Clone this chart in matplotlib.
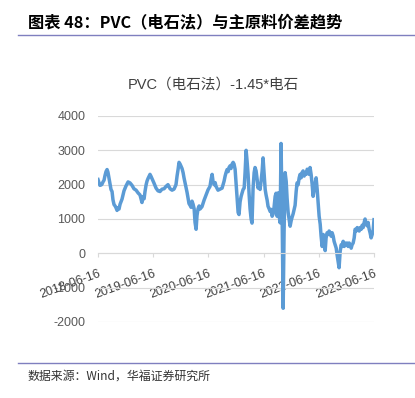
import pandas as pd
import matplotlib
matplotlib.use("Agg")
import matplotlib.pyplot as plt
from matplotlib.lines import Line2D

# PVC (calcium carbide) - 1.45 * carbide spread
dates = [
    "2018-06-16", "2018-06-23", "2018-06-29", "2018-07-06", "2018-07-12", "2018-07-19",
    "2018-07-26", "2018-08-01", "2018-08-08", "2018-08-15", "2018-08-21", "2018-08-28",
    "2018-09-03", "2018-09-10", "2018-09-17", "2018-09-23", "2018-09-30", "2018-10-07",
    "2018-10-13", "2018-10-20", "2018-10-26", "2018-11-02", "2018-11-09", "2018-11-22",
    "2018-12-05", "2018-12-18", "2019-01-01", "2019-01-14", "2019-01-27", "2019-02-09",
    "2019-02-23", "2019-03-08", "2019-03-21", "2019-03-28", "2019-04-03", "2019-04-10",
    "2019-04-17", "2019-04-23", "2019-04-30", "2019-05-06", "2019-05-13", "2019-05-26",
    "2019-06-02", "2019-06-08", "2019-06-22", "2019-07-05", "2019-07-18", "2019-07-31",
    "2019-08-14", "2019-08-27", "2019-09-09", "2019-09-22", "2019-10-06", "2019-10-19",
    "2019-11-01", "2019-11-14", "2019-11-21", "2019-11-28", "2019-12-04", "2019-12-11",
    "2019-12-17", "2019-12-24", "2019-12-31", "2020-01-06", "2020-01-13", "2020-01-20",
    "2020-01-26", "2020-02-02", "2020-02-08", "2020-02-15", "2020-02-22", "2020-02-28",
    "2020-03-06", "2020-03-13", "2020-03-19", "2020-03-26", "2020-04-01", "2020-04-08",
    "2020-04-15", "2020-04-21", "2020-05-04", "2020-05-18", "2020-05-31", "2020-06-13",
    "2020-06-26", "2020-07-03", "2020-07-10", "2020-07-16", "2020-07-23", "2020-07-30",
    "2020-08-05", "2020-08-18", "2020-09-01", "2020-09-14", "2020-09-27", "2020-10-04",
    "2020-10-10", "2020-10-17", "2020-10-24", "2020-10-30", "2020-11-06", "2020-11-12",
    "2020-11-19", "2020-11-26", "2020-12-02", "2020-12-09", "2020-12-16", "2020-12-22",
    "2020-12-29", "2021-01-04", "2021-01-11", "2021-01-18", "2021-01-24", "2021-01-31",
    "2021-02-07", "2021-02-13", "2021-02-20", "2021-02-26", "2021-03-05", "2021-03-12",
    "2021-03-18", "2021-03-25", "2021-03-31", "2021-04-07", "2021-04-14", "2021-04-20",
    "2021-04-27", "2021-05-04", "2021-05-10", "2021-05-17", "2021-05-23", "2021-05-30",
    "2021-06-06", "2021-06-12", "2021-06-19", "2021-06-26", "2021-07-02", "2021-07-09",
    "2021-07-15", "2021-07-22", "2021-07-29", "2021-08-04", "2021-08-11", "2021-08-18",
    "2021-08-24", "2021-08-31", "2021-09-06", "2021-09-13", "2021-09-20", "2021-09-26",
    "2021-10-03", "2021-10-09", "2021-10-16", "2021-10-23", "2021-10-29", "2021-11-05",
    "2021-11-12", "2021-11-18", "2021-11-25", "2021-12-01", "2021-12-08", "2021-12-15",
    "2021-12-21", "2021-12-28", "2022-01-04", "2022-01-10", "2022-01-17", "2022-01-23",
    "2022-01-30", "2022-02-06", "2022-02-12", "2022-02-19", "2022-02-25", "2022-03-04",
    "2022-03-11", "2022-03-17", "2022-03-24", "2022-03-31", "2022-04-06", "2022-04-13",
    "2022-04-19", "2022-04-26", "2022-05-03", "2022-05-09", "2022-05-16", "2022-05-23",
    "2022-05-29", "2022-06-05", "2022-06-11", "2022-06-18", "2022-06-25", "2022-07-01",
    "2022-07-08", "2022-07-15", "2022-07-21", "2022-07-28", "2022-08-03", "2022-08-10",
    "2022-08-17", "2022-08-23", "2022-08-30", "2022-09-05", "2022-09-12", "2022-09-19",
    "2022-09-25", "2022-10-02", "2022-10-09", "2022-10-15", "2022-10-22", "2022-10-28",
    "2022-11-04", "2022-11-11", "2022-11-17", "2022-11-24", "2022-12-01", "2022-12-07",
    "2022-12-14", "2022-12-20", "2022-12-27", "2023-01-03", "2023-01-09", "2023-01-16",
    "2023-01-22", "2023-01-29", "2023-02-05", "2023-02-11", "2023-02-18", "2023-02-25",
    "2023-03-03", "2023-03-10", "2023-03-16", "2023-03-23", "2023-03-30", "2023-04-05",
    "2023-04-12", "2023-04-18", "2023-04-25", "2023-05-02", "2023-05-08", "2023-05-15",
    "2023-05-21", "2023-05-28", "2023-06-04", "2023-06-10", "2023-06-16",
]
spread = [
    2150, 2050, 1980, 1990, 2010, 2080,
    2130, 2260, 2380, 2440, 2360, 2180,
    2020, 1860, 1800, 1560, 1420, 1380,
    1330, 1250, 1330, 1290, 1430, 1580,
    1820, 1960, 2080, 2050, 1980, 1880,
    1840, 1760, 1700, 1580, 1480, 1650,
    1590, 1800, 1990, 2100, 2180, 2300,
    2240, 2180, 2040, 1900, 1820, 1800,
    1870, 1880, 1950, 2000, 1880, 1840,
    1870, 2000, 2250, 2450, 2650, 2600,
    2540, 2470, 2350, 2200, 2050, 1900,
    1780, 1600, 1450, 1400, 1340, 1520,
    1430, 1300, 900, 700, 1100, 1300,
    1380, 1290, 1360, 1550, 1700, 1850,
    1950, 2150, 2300, 2100, 2000, 2060,
    1950, 1840, 1870, 1900, 2100, 2250,
    2350, 2440, 2380, 2500, 2550, 2470,
    2600, 2650, 2600, 2450, 2000, 1660,
    1190, 1130, 1500, 1660, 1750, 1860,
    1900, 2350, 3000, 2700, 2300, 1700,
    1300, 1000, 880, 1900, 2350, 2500,
    2400, 2150, 1900, 2000, 1860, 2100,
    2400, 2780, 2300, 1860, 1700, 1550,
    1370, 1300, 1220, 1280, 1080, 1150,
    1350, 1660, 1750, 1080, 1760, 1100,
    890, 3200, 1200, -1600, 600, 2350,
    2100, 1600, 1190, 1000, 790, 950,
    1050, 1150, 1280, 1400, 1800, 2050,
    2000, 2200, 2300, 2200, 2350, 2400,
    2250, 2350, 2300, 2450, 2400, 2300,
    2500, 2300, 2000, 1660, 1850, 2050,
    2200, 1860, 1500, 1080, 850, 500,
    200, 550, 350, 80, 450, 600,
    550, 650, 600, 500, 600, 500,
    350, 250, 150, -50, -250, -420,
    50, 250, 200, 350, 200, 300,
    250, 300, 200, 300, 250, 150,
    250, 300, 450, 700, 650, 750,
    700, 650, 750, 700, 820, 750,
    900, 1000, 850, 800, 900, 700,
    600, 450, 550, 650, 980,
]
tick_dates = ["2018-06-16", "2019-06-16", "2020-06-16", "2021-06-16", "2022-06-16", "2023-06-16"]
y_ticks = [-2000, -1000, 0, 1000, 2000, 3000, 4000]

title = "图表 48：PVC（电石法）与主原料价差趋势"
chart_title = "PVC（电石法）-1.45*电石"
source = "数据来源：Wind，华福证券研究所"

CJK = ["Noto Sans CJK SC", "DejaVu Sans"]
LAT = ["Liberation Sans", "Noto Sans CJK SC"]

x = pd.to_datetime(dates)
ticks = pd.to_datetime(tick_dates)

fig = plt.figure(figsize=(4.15, 3.98), dpi=100)
ax = fig.add_axes([98 / 415, 1 - 322 / 398, 276 / 415, 206 / 398])

ax.plot(x, spread, color="#5B9BD5", lw=2.5, solid_joinstyle="round")

ax.set_ylim(-2000, 4000)
ax.set_xlim(ticks[0], ticks[-1])
ax.set_yticks(y_ticks)
ax.set_yticklabels([str(v) for v in y_ticks], family=LAT, fontsize=9, color="#595959")
ax.grid(axis="y", color="#D9D9D9", lw=0.8)
ax.set_axisbelow(True)

for s in ["top", "right", "left"]:
    ax.spines[s].set_visible(False)
ax.spines["bottom"].set_position(("data", 0))
ax.spines["bottom"].set_color("#D9D9D9")
ax.spines["bottom"].set_linewidth(0.8)

ax.set_xticks(ticks)
ax.set_xticklabels(tick_dates, family=LAT, fontsize=9, color="#404040",
                   rotation=20, ha="right", va="top", rotation_mode="anchor")
ax.tick_params(axis="x", length=3, color="#D9D9D9", pad=7)
ax.tick_params(axis="y", length=0, pad=9)

fig.text(0.5 * (128 + 298) / 415, 1 - 85 / 398, chart_title, family=LAT, fontsize=10.5,
         color="#404040", ha="center", va="center")

fig.text(28 / 415, 1 - 22 / 398, title, family=CJK, fontsize=11.7, fontweight="bold",
         color="#000000", ha="left", va="center")
fig.add_artist(Line2D([18 / 415, 1], [1 - 35 / 398] * 2, color="#7F7FBF", lw=1.0))
fig.add_artist(Line2D([18 / 415, 1], [1 - 363 / 398] * 2, color="#7F7FBF", lw=1.0))
fig.text(27 / 415, 1 - 376 / 398, source, family=CJK, fontsize=8.6,
         color="#333333", ha="left", va="center")

fig.savefig("out.png", dpi=100)
